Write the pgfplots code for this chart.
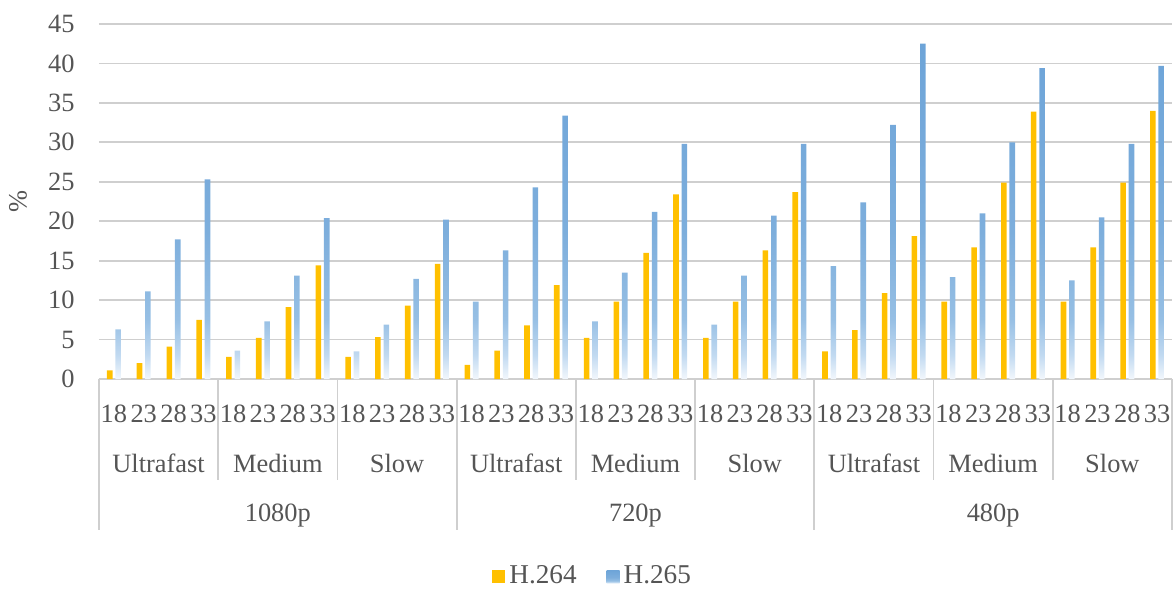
\documentclass[border=0pt]{standalone}
\usepackage{fontspec}
\setmainfont{Liberation Serif}
\usepackage{pgfplots}
\usepackage{pgfplotstable}
\pgfplotsset{compat=1.18}
\definecolor{h264}{HTML}{FFC000}
\definecolor{bTop}{HTML}{6DA4D8}
\definecolor{bHi}{HTML}{7DAEDC}
\definecolor{bMid}{HTML}{96BFE4}
\definecolor{bLow}{HTML}{C2DAF1}
\definecolor{bBot}{HTML}{F2F7FC}
\definecolor{txt}{HTML}{555555}
\definecolor{gridc}{HTML}{CFCFCF}
\pgfdeclareverticalshading{blueshade}{100bp}{color(0bp)=(bBot); color(25bp)=(bBot); color(28.5bp)=(bLow); color(34bp)=(bMid); color(47bp)=(bHi); color(75bp)=(bTop); color(100bp)=(bTop)}

\pgfplotstableread{
x a b
0 1.1 6.3
1 2.0 11.1
2 4.1 17.7
3 7.5 25.3
4 2.8 3.6
5 5.2 7.3
6 9.1 13.1
7 14.4 20.4
8 2.8 3.5
9 5.3 6.9
10 9.3 12.7
11 14.6 20.2
12 1.8 9.8
13 3.6 16.3
14 6.8 24.3
15 11.9 33.4
16 5.2 7.3
17 9.8 13.5
18 16.0 21.2
19 23.4 29.8
20 5.2 6.9
21 9.8 13.1
22 16.3 20.7
23 23.7 29.8
24 3.5 14.3
25 6.2 22.4
26 10.9 32.2
27 18.1 42.5
28 9.8 12.9
29 16.7 21.0
30 24.9 30.0
31 33.9 39.4
32 9.8 12.5
33 16.7 20.5
34 24.9 29.8
35 34.0 39.7
}\data

\newcommand{\chartfont}{\fontsize{13.2}{15}\selectfont}
\begin{document}
\chartfont
\begin{tikzpicture}
\path[use as bounding box] (-49.5pt,-105.5pt) rectangle (537.5pt,189.5pt);
\begin{axis}[at={(0,0)}, anchor=south west, scale only axis,
  width=536.5pt, height=177.5pt,
  xmin=-0.5, xmax=35.5, ymin=0, ymax=45, ytick={0,5,...,45},
  xtick={0,...,35},
  xticklabels={18,23,28,33,18,23,28,33,18,23,28,33,18,23,28,33,18,23,28,33,18,23,28,33,18,23,28,33,18,23,28,33,18,23,28,33},
  ybar=1.4pt, bar width=2.8pt,
  axis x line*=bottom, axis y line*=left,
  y axis line style={draw=none},
  x axis line style={draw=gridc, line width=0.9pt, -},
  major tick length=0pt,
  ymajorgrids, grid style={gridc, line width=0.9pt},
  tick label style={text=txt, font=\chartfont},
  xticklabel style={anchor=base, yshift=-21.8pt},
  yticklabel style={anchor=east, xshift=-7.6pt},
  /pgf/number format/assume math mode=true,
  ylabel={\%}, ylabel style={at={(axis description cs:-0.0755,0.5)}, anchor=center, text=txt, font=\chartfont},
  legend style={at={(0.461,-0.557)}, anchor=center, draw=none, fill=none, legend columns=2,
    font=\fontsize{13.6}{15}\selectfont, text=txt, inner sep=0pt,
    /tikz/every even column/.append style={column sep=13pt}},
  legend image code/.code={\path[#1] (0pt,-3.2pt) rectangle (6.5pt,3.3pt);},
  clip=false,
]
\addplot[fill=h264, draw=none] table[x=x,y=a] {\data};
\addplot[draw=none, shade, shading=blueshade] table[x=x,y=b] {\data};
\legend{H.264,H.265}
% separators
\draw[gridc, line width=0.9pt] (axis cs:-0.5,0) -- ++(0pt,-75.5pt);
\draw[gridc, line width=0.9pt] (axis cs:11.5,0) -- ++(0pt,-75.5pt);
\draw[gridc, line width=0.9pt] (axis cs:23.5,0) -- ++(0pt,-75.5pt);
\draw[gridc, line width=0.9pt] (axis cs:35.5,0) -- ++(0pt,-75.5pt);
\draw[gridc, line width=0.9pt] (axis cs:3.5,0) -- ++(0pt,-50.5pt);
\draw[gridc, line width=0.9pt] (axis cs:7.5,0) -- ++(0pt,-50.5pt);
\draw[gridc, line width=0.9pt] (axis cs:15.5,0) -- ++(0pt,-50.5pt);
\draw[gridc, line width=0.9pt] (axis cs:19.5,0) -- ++(0pt,-50.5pt);
\draw[gridc, line width=0.9pt] (axis cs:27.5,0) -- ++(0pt,-50.5pt);
\draw[gridc, line width=0.9pt] (axis cs:31.5,0) -- ++(0pt,-50.5pt);
% group labels
\node[anchor=base, text=txt] at (axis cs:1.5,0) [yshift=-46.5pt] {Ultrafast};
\node[anchor=base, text=txt] at (axis cs:5.5,0) [yshift=-46.5pt] {Medium};
\node[anchor=base, text=txt] at (axis cs:9.5,0) [yshift=-46.5pt] {Slow};
\node[anchor=base, text=txt] at (axis cs:13.5,0) [yshift=-46.5pt] {Ultrafast};
\node[anchor=base, text=txt] at (axis cs:17.5,0) [yshift=-46.5pt] {Medium};
\node[anchor=base, text=txt] at (axis cs:21.5,0) [yshift=-46.5pt] {Slow};
\node[anchor=base, text=txt] at (axis cs:25.5,0) [yshift=-46.5pt] {Ultrafast};
\node[anchor=base, text=txt] at (axis cs:29.5,0) [yshift=-46.5pt] {Medium};
\node[anchor=base, text=txt] at (axis cs:33.5,0) [yshift=-46.5pt] {Slow};
\node[anchor=base, text=txt] at (axis cs:5.5,0) [yshift=-71.3pt] {1080p};
\node[anchor=base, text=txt] at (axis cs:17.5,0) [yshift=-71.3pt] {720p};
\node[anchor=base, text=txt] at (axis cs:29.5,0) [yshift=-71.3pt] {480p};
\end{axis}
\end{tikzpicture}
\end{document}
